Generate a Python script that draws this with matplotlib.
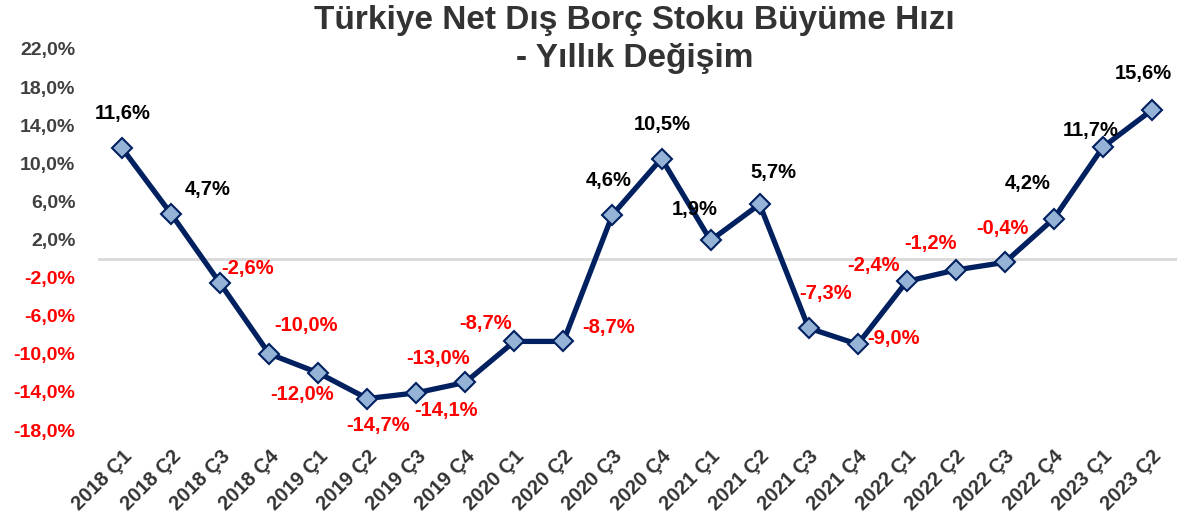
import matplotlib.pyplot as plt

plt.rcParams['font.family'] = ['Liberation Sans', 'DejaVu Sans']

quarters = ["2018 Ç1", "2018 Ç2", "2018 Ç3", "2018 Ç4",
            "2019 Ç1", "2019 Ç2", "2019 Ç3", "2019 Ç4",
            "2020 Ç1", "2020 Ç2", "2020 Ç3", "2020 Ç4",
            "2021 Ç1", "2021 Ç2", "2021 Ç3", "2021 Ç4",
            "2022 Ç1", "2022 Ç2", "2022 Ç3", "2022 Ç4",
            "2023 Ç1", "2023 Ç2"]
growth = [11.6, 4.7, -2.6, -10.0, -12.0, -14.7, -14.1, -13.0, -8.7, -8.7, 4.6,
          10.5, 1.9, 5.7, -7.3, -9.0, -2.4, -1.2, -0.4, 4.2, 11.7, 15.6]
yticks = [-18, -14, -10, -6, -2, 2, 6, 10, 14, 18, 22]

# label offsets in pixels (x right, y up)
offs = [(1, 35), (37, 24), (27, 15), (37, 28), (-16, -22), (11, -27), (30, -18),
        (-27, 24), (-29, 18), (45, 14), (-4, 34), (1, 34), (-16, 31), (14, 32),
        (17, 35), (36, 6), (-33, 16), (-25, 26), (-2, 34), (-26, 35), (-12, 17),
        (-9, 36)]

def fmt(v):
    return ("%.1f%%" % v).replace(".", ",")

fig = plt.figure(figsize=(11.84, 5.19), dpi=100)
ax = fig.add_axes([97.5 / 1184, 1 - 430 / 519, 1079 / 1184, 381 / 519])

x = list(range(len(quarters)))
ax.axhline(0, color='#D9D9D9', lw=2, zorder=1)
ax.plot(x, growth, color='#002060', lw=3.8, marker='D', ms=10.5,
        mfc='#95B3D7', mec='#002060', mew=1.5, zorder=3)

for i, v in enumerate(growth):
    c = 'black' if v >= 0 else '#FF0000'
    ax.annotate(fmt(v), (i, v), xytext=offs[i], textcoords='offset pixels',
                ha='center', va='center', fontsize=14.5, fontweight='bold', color=c)

ax.set_xlim(-0.5, len(quarters) - 0.5)
ax.set_ylim(-18, 22)
ax.set_yticks(yticks)
ax.set_yticklabels([fmt(t) for t in yticks], fontsize=14, fontweight='bold')
for lab, t in zip(ax.get_yticklabels(), yticks):
    lab.set_color('#404040' if t > 0 else '#FF0000')
ax.set_xticks(x)
ax.set_xticklabels(quarters, rotation=45, ha='right', rotation_mode='anchor',
                   fontsize=14.5, fontweight='bold', color='#333333')
ax.tick_params(axis='y', length=0, pad=16)
ax.tick_params(axis='x', length=0, pad=12)
for s in ax.spines.values():
    s.set_visible(False)

fig.suptitle("Türkiye Net Dış Borç Stoku Büyüme Hızı\n- Yıllık Değişim", x=0.536, y=0.99,
             fontsize=24, fontweight='bold', color='#333333', linespacing=1.28)

fig.savefig("out.png", dpi=100)
